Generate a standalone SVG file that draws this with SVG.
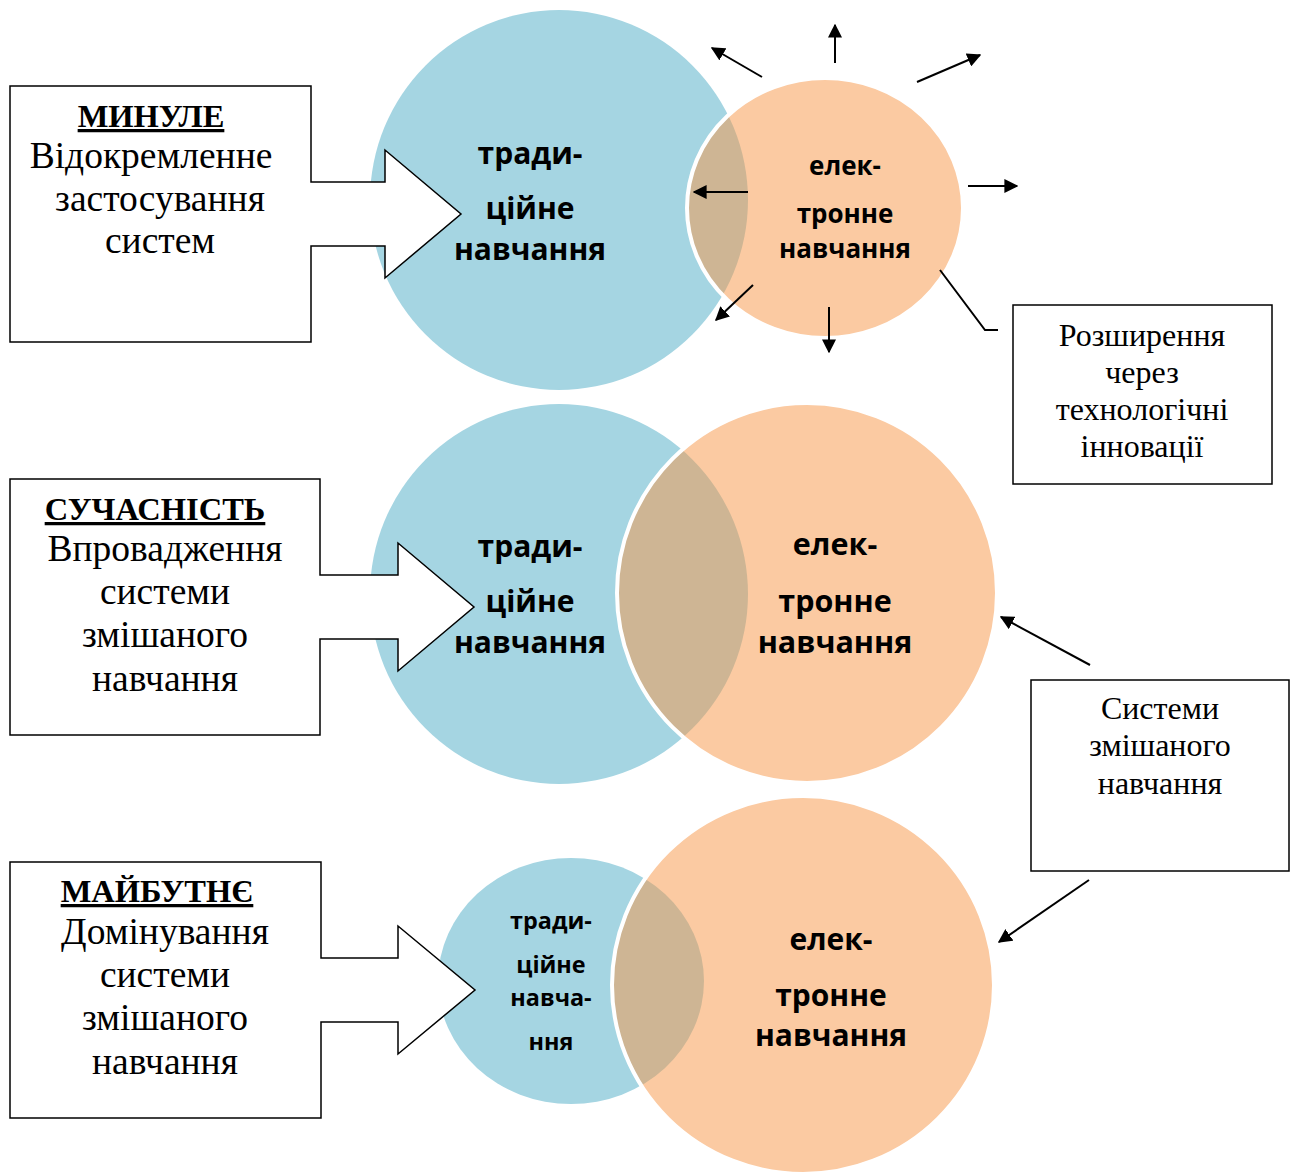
<svg xmlns="http://www.w3.org/2000/svg" width="1290" height="1173" viewBox="0 0 1290 1173">
<style>
.blue{fill:#A5D5E2}
.orange{fill:#F79646;fill-opacity:0.5;stroke:#fff;stroke-width:4}
.ct{font-family:"Open Sans","DejaVu Sans",sans-serif;font-weight:bold;text-anchor:middle;fill:#000}
.box{fill:#fff;stroke:#000;stroke-width:1.5}
.tt{font-family:"Liberation Serif","Times New Roman",serif;text-anchor:middle;fill:#000;font-size:37.5px}
.tt.th{font-weight:bold;text-decoration:underline;font-size:32.5px}
.rt{font-family:"Liberation Serif","Times New Roman",serif;text-anchor:middle;fill:#000;font-size:32px}
.ln{stroke:#000;stroke-width:2;fill:none}
.ar{stroke:#000;stroke-width:2;fill:none;marker-end:url(#ah)}
</style>
<defs>
<marker id="ah" viewBox="0 0 10 10" refX="9" refY="5" markerWidth="7" markerHeight="7" orient="auto" markerUnits="strokeWidth">
<path d="M0,0 L10,5 L0,10 Z" fill="#000"/>
</marker>
</defs>
<rect width="1290" height="1173" fill="#fff"/>

<g id="venn-past">
<ellipse class="blue" cx="559" cy="200" rx="189" ry="190"/>
<ellipse class="orange" cx="825" cy="208" rx="138" ry="130"/>
<text class="ct" x="530" y="164" font-size="30">тради-</text>
<text class="ct" x="530" y="219" font-size="30">ційне</text>
<text class="ct" x="530" y="260" font-size="30">навчання</text>
<text class="ct" x="845" y="175" font-size="26">елек-</text>
<text class="ct" x="845" y="223" font-size="26">тронне</text>
<text class="ct" x="845" y="258" font-size="26">навчання</text>
</g>

<g id="venn-present">
<ellipse class="blue" cx="559" cy="594" rx="189" ry="190"/>
<ellipse class="orange" cx="807" cy="593" rx="190" ry="190"/>
<text class="ct" x="530" y="557" font-size="30">тради-</text>
<text class="ct" x="530" y="612" font-size="30">ційне</text>
<text class="ct" x="530" y="653" font-size="30">навчання</text>
<text class="ct" x="835" y="555" font-size="30.5">елек-</text>
<text class="ct" x="835" y="612" font-size="30.5">тронне</text>
<text class="ct" x="835" y="653" font-size="30.5">навчання</text>
</g>

<g id="venn-future">
<ellipse class="blue" cx="571" cy="981" rx="133" ry="123"/>
<ellipse class="orange" cx="803" cy="985" rx="191" ry="189"/>
<text class="ct" x="551" y="929" font-size="23.4">тради-</text>
<text class="ct" x="551" y="973" font-size="23.4">ційне</text>
<text class="ct" x="551" y="1006" font-size="23.4">навча-</text>
<text class="ct" x="551" y="1050" font-size="23.4">ння</text>
<text class="ct" x="831" y="950" font-size="30">елек-</text>
<text class="ct" x="831" y="1006" font-size="30">тронне</text>
<text class="ct" x="831" y="1046" font-size="30">навчання</text>
</g>

<g id="box-past">
<path class="box" d="M10,86 H311 V182 H385 V150 L461,214 L385,278 V246 H311 V342 H10 Z"/>
<text class="tt th" x="151" y="127">МИНУЛЕ</text>
<text class="tt" x="151" y="168">Відокремленне</text>
<text class="tt" x="160" y="211">застосування</text>
<text class="tt" x="160" y="253">систем</text>
</g>

<g id="box-present">
<path class="box" d="M10,479 H320 V575 H398 V543 L474,607 L398,671 V639 H320 V735 H10 Z"/>
<text class="tt th" x="155" y="520">СУЧАСНІСТЬ</text>
<text class="tt" x="165" y="561">Впровадження</text>
<text class="tt" x="165" y="604">системи</text>
<text class="tt" x="165" y="647">змішаного</text>
<text class="tt" x="165" y="691">навчання</text>
</g>

<g id="box-future">
<path class="box" d="M10,862 H321 V958 H398 V926 L475,990 L398,1054 V1022 H321 V1118 H10 Z"/>
<text class="tt th" x="157" y="902">МАЙБУТНЄ</text>
<text class="tt" x="165" y="944">Домінування</text>
<text class="tt" x="165" y="987">системи</text>
<text class="tt" x="165" y="1030">змішаного</text>
<text class="tt" x="165" y="1074">навчання</text>
</g>

<g id="box-tech">
<rect class="box" x="1013" y="305" width="259" height="179"/>
<text class="rt" x="1142" y="346">Розширення</text>
<text class="rt" x="1142" y="383">через</text>
<text class="rt" x="1142" y="420">технологічні</text>
<text class="rt" x="1142" y="457">інновації</text>
</g>

<g id="box-blended">
<rect class="box" x="1031" y="680" width="258" height="191"/>
<text class="rt" x="1160" y="719">Системи</text>
<text class="rt" x="1160" y="756">змішаного</text>
<text class="rt" x="1160" y="794">навчання</text>
</g>

<g id="connectors">
<line class="ar" x1="762" y1="77" x2="712" y2="48"/>
<line class="ar" x1="835" y1="63" x2="835" y2="25"/>
<line class="ar" x1="917" y1="82" x2="980" y2="55"/>
<line class="ar" x1="968" y1="186" x2="1017" y2="186"/>
<line class="ar" x1="748" y1="192" x2="694" y2="192"/>
<line class="ar" x1="753" y1="285" x2="716" y2="320"/>
<line class="ar" x1="829" y1="307" x2="829" y2="352"/>
<polyline class="ln" points="940,270 985,330 998,330"/>
<line class="ar" x1="1090" y1="665" x2="1001" y2="617"/>
<line class="ar" x1="1089" y1="880" x2="999" y2="942"/>
</g>
</svg>
